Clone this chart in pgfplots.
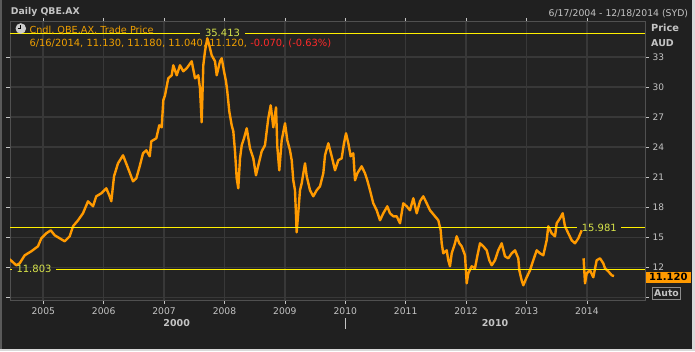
\documentclass[border=0pt]{standalone}
\usepackage{pgfplots}
\pgfplotsset{compat=1.18}
\usepackage{fontspec}
\setmainfont{DejaVu Sans}
\definecolor{bgc}{HTML}{202020}
\definecolor{plotbg}{HTML}{232323}
\definecolor{gridc}{HTML}{383838}
\definecolor{framec}{HTML}{505050}
\definecolor{txt}{HTML}{C4C4C4}
\definecolor{org}{HTML}{FF9A00}
\definecolor{ylwl}{RGB}{255,240,0}
\definecolor{ylwtxt}{HTML}{D8E44A}
\definecolor{redt}{HTML}{FF2A2A}
\definecolor{legorg}{HTML}{F0A000}
\definecolor{edge}{HTML}{5A5A5A}
\newcommand{\fs}[1]{\fontsize{#1}{#1}\selectfont}
\begin{document}
\begin{tikzpicture}
\fill[bgc] (0pt,0pt) rectangle (695pt,351pt);
\useasboundingbox (0pt,0pt) rectangle (695pt,351pt);
\fill[edge] (0pt,0pt) rectangle (2pt,351pt);
\fill[black!15] (0pt,0pt) rectangle (695pt,2pt);
\fill[black!15] (692pt,0pt) rectangle (695pt,351pt);
\begin{axis}[at={(10pt,51pt)}, anchor=south west, scale only axis,
  width=635pt, height=278pt,
  xmin=2004.4487, xmax=2014.962, ymin=8.73, ymax=36.53,
  axis background/.style={fill=plotbg},
  axis line style={framec, line width=1pt},
  grid=major, major grid style={gridc, line width=1.6pt},
  xtick={2005,2006,...,2014}, ytick={9,12,...,33},
  yticklabels={,12,15,18,21,24,27,30,33},
  yticklabel pos=right,
  tick align=outside, major tick length=4pt,
  tick style={txt, line width=0.8pt},
  /pgf/number format/assume math mode=true,
  /pgf/number format/1000 sep={},
  xticklabel style={font=\fs{9.2}, text=txt},
  yticklabel style={font=\fs{9}, text=txt},
  clip=true]
\addplot[draw=org, line width=2.4pt, line join=round] coordinates {
(2004.444,12.8) (2004.553,12.2) (2004.609,12.4) (2004.692,13.2) (2004.801,13.6) (2004.912,14.1) (2004.967,14.9) (2005.050,15.4) (2005.123,15.7) (2005.189,15.2) (2005.272,14.9) (2005.354,14.6) (2005.437,15.1) (2005.492,16.1) (2005.575,16.7) (2005.657,17.4) (2005.740,18.6) (2005.823,18.1) (2005.877,19.1) (2005.960,19.4) (2006.043,19.9) (2006.099,19.1) (2006.126,18.6) (2006.171,21.1) (2006.237,22.4) (2006.320,23.2) (2006.391,22.1) (2006.485,20.6) (2006.540,20.9) (2006.596,22.1) (2006.651,23.4) (2006.705,23.7) (2006.762,23.1) (2006.788,24.6) (2006.871,24.9) (2006.920,26.2) (2006.960,26.0) (2006.987,28.7) (2007.015,29.2) (2007.069,30.9) (2007.126,31.2) (2007.152,32.2) (2007.209,31.2) (2007.263,32.2) (2007.318,31.6) (2007.374,31.9) (2007.457,32.6) (2007.512,30.9) (2007.566,31.2) (2007.594,29.9) (2007.622,26.5) (2007.649,32.2) (2007.677,33.6) (2007.715,34.9) (2007.748,34.2) (2007.788,33.2) (2007.843,32.6) (2007.871,31.2) (2007.925,32.6) (2007.954,32.9) (2007.992,31.6) (2008.025,30.6) (2008.046,29.6) (2008.079,27.6) (2008.119,26.2) (2008.146,25.6) (2008.174,23.6) (2008.202,20.9) (2008.228,19.9) (2008.257,22.9) (2008.285,24.2) (2008.323,24.9) (2008.368,25.9) (2008.422,23.9) (2008.477,22.9) (2008.521,21.2) (2008.560,22.2) (2008.616,23.6) (2008.670,24.2) (2008.725,26.9) (2008.765,28.2) (2008.808,26.0) (2008.853,28.0) (2008.874,24.1) (2008.907,21.7) (2008.947,24.7) (2009.002,26.4) (2009.040,24.7) (2009.084,23.7) (2009.113,22.7) (2009.139,20.7) (2009.167,19.7) (2009.195,15.5) (2009.222,17.5) (2009.250,19.7) (2009.278,20.4) (2009.333,22.4) (2009.361,21.1) (2009.416,19.7) (2009.470,19.1) (2009.526,19.7) (2009.581,20.1) (2009.636,21.4) (2009.664,23.2) (2009.719,24.4) (2009.775,23.1) (2009.830,21.7) (2009.884,22.7) (2009.940,22.9) (2009.978,24.4) (2010.012,25.4) (2010.050,24.4) (2010.089,23.1) (2010.132,23.4) (2010.161,20.7) (2010.199,21.4) (2010.271,22.1) (2010.326,21.4) (2010.364,20.7) (2010.409,19.7) (2010.463,18.4) (2010.520,17.7) (2010.574,16.7) (2010.629,17.4) (2010.695,18.1) (2010.740,17.4) (2010.795,17.1) (2010.851,17.1) (2010.906,16.4) (2010.960,18.4) (2011.016,18.1) (2011.071,17.7) (2011.126,18.9) (2011.182,17.4) (2011.237,18.6) (2011.291,19.1) (2011.348,18.4) (2011.402,17.7) (2011.485,17.1) (2011.540,16.7) (2011.579,15.7) (2011.596,14.4) (2011.622,13.4) (2011.679,13.7) (2011.705,12.7) (2011.733,12.1) (2011.762,13.4) (2011.816,14.4) (2011.844,15.1) (2011.887,14.4) (2011.927,14.1) (2011.982,13.2) (2012.010,10.4) (2012.036,11.4) (2012.093,12.1) (2012.147,11.9) (2012.185,13.1) (2012.230,14.4) (2012.285,14.1) (2012.341,13.7) (2012.384,12.7) (2012.424,12.2) (2012.478,12.7) (2012.533,13.7) (2012.589,14.4) (2012.644,13.1) (2012.699,12.9) (2012.755,13.4) (2012.810,13.7) (2012.864,12.9) (2012.881,11.7) (2012.920,10.7) (2012.947,10.2) (2013.003,11.0) (2013.058,11.7) (2013.112,12.7) (2013.169,13.7) (2013.223,13.4) (2013.278,13.2) (2013.334,14.7) (2013.361,16.1) (2013.417,15.4) (2013.472,15.1) (2013.500,16.4) (2013.555,16.9) (2013.599,17.4) (2013.637,16.1) (2013.692,15.4) (2013.748,14.7) (2013.803,14.4) (2013.858,14.9) (2013.914,15.7)
};
\addplot[draw=org, line width=2.4pt, line join=round] coordinates {
(2013.945,12.9) (2013.969,10.4) (2013.997,11.4) (2014.051,11.7) (2014.106,11.0) (2014.162,12.7) (2014.217,12.9) (2014.271,12.4) (2014.300,11.9) (2014.354,11.6) (2014.411,11.2) (2014.449,11.12)
};
% reference lines
\draw[ylwl, line width=1.2pt] (axis cs:2004.4487,35.413) -- (axis cs:2007.594,35.413);
\draw[ylwl, line width=1.2pt] (axis cs:2008.339,35.413) -- (axis cs:2014.962,35.413);
\draw[ylwl, line width=1.2pt] (axis cs:2004.4487,15.981) -- (axis cs:2013.836,15.981);
\draw[ylwl, line width=1.2pt] (axis cs:2014.565,15.981) -- (axis cs:2014.962,15.981);
\draw[ylwl, line width=1.2pt] (axis cs:2004.4487,11.803) -- (axis cs:2004.482,11.803);
\draw[ylwl, line width=1.2pt] (axis cs:2005.210,11.803) -- (axis cs:2014.962,11.803);
\node[text=ylwtxt, font=\fs{10}, inner sep=0] at (axis cs:2007.967,35.413) {35.413};
\node[text=ylwtxt, font=\fs{10}, inner sep=0] at (axis cs:2014.205,15.981) {15.981};
\node[text=ylwtxt, font=\fs{10}, inner sep=0] at (axis cs:2004.846,11.803) {11.803};
\end{axis}
% header
\node[anchor=west, inner sep=0, text=txt, font=\fs{9.3}\bfseries] at (10.7pt,338.7pt) {Daily QBE.AX};
\node[anchor=east, inner sep=0, text=txt, font=\fs{9.3}] at (688.3pt,337.7pt) {6/17/2004 - 12/18/2014 (SYD)};
% legend text
\fill[black!20] (20.8pt,322.5pt) circle (5.3pt);
\draw[black, line width=0.9pt] (20.8pt,322.5pt) -- (20.8pt,326.3pt);
\draw[black, line width=0.9pt] (20.8pt,322.5pt) -- (17.6pt,322.5pt);
\node[anchor=west, inner sep=0, text=legorg, font=\fs{9.7}] at (29.3pt,320.3pt) {Cndl, QBE.AX, Trade Price};
\node[anchor=west, inner sep=0, font=\fs{9.9}] at (29.3pt,307.7pt) {\color{legorg}6/16/2014, 11.130, 11.180, 11.040, 11.120, \color{redt}-0.070, (-0.63\%)};
% right labels
\node[anchor=west, inner sep=0, text=txt, font=\fs{9.8}\bfseries] at (651pt,322.7pt) {Price};
\node[anchor=west, inner sep=0, text=txt, font=\fs{9.5}\bfseries] at (651pt,307.7pt) {AUD};
\fill[org] (645.7pt,68.5pt) rectangle (691pt,79.5pt);
\node[inner sep=0, text=black, font=\fs{10}\bfseries] at (668.3pt,74pt) {11.120};
\draw[black!45, fill=bgc, line width=0.8pt] (652.3pt,51.7pt) rectangle (680.7pt,63.3pt);
\node[inner sep=0, text=txt, font=\fs{9.3}\bfseries] at (666.5pt,57.5pt) {Auto};
% bottom era labels
\node[inner sep=0, text=txt, font=\fs{9.5}\bfseries] at (176.7pt,27.7pt) {2000};
\node[inner sep=0, text=txt, font=\fs{9.5}\bfseries] at (495pt,27.7pt) {2010};
\draw[txt, line width=1pt] (345.3pt,32.7pt) -- (345.3pt,21.7pt);
\end{tikzpicture}
\end{document}
